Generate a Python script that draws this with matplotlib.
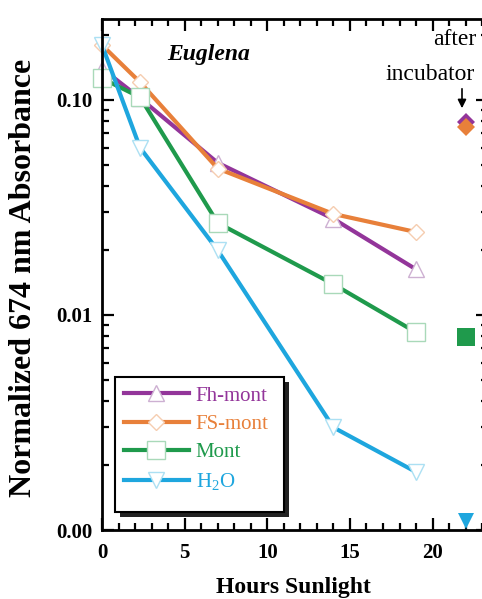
"""Euglena chlorophyll absorbance under sunlight exposure."""

import matplotlib

matplotlib.use("Agg")
import matplotlib.pyplot as plt
from matplotlib.patches import Rectangle
from matplotlib.ticker import FixedLocator, LogLocator, MultipleLocator, NullFormatter

# Data
hours = [0, 2.3, 7, 14, 19]
fh_mont = [0.14, 0.102, 0.051, 0.028, 0.0163]
fs_mont = [0.18, 0.121, 0.048, 0.0295, 0.0243]
mont = [0.126, 0.103, 0.0268, 0.0139, 0.0083]
h2o = [0.18, 0.060, 0.020, 0.0030, 0.00186]

incubator_hours = 22
incubator_fh_mont = 0.079
incubator_fs_mont = 0.075
incubator_mont = 0.0079
incubator_h2o = 0.0011

series_labels = ["Fh-mont", "FS-mont", "Mont", "H$_2$O"]
y_ticks = [0.001, 0.01, 0.1]
y_tick_labels = ["0.00", "0.01", "0.10"]
x_ticks = [0, 5, 10, 15, 20]

W, H = 482, 599


def px(x, y):
    """Pixel position (from top-left) to figure fraction."""
    return x / W, 1 - y / H


def main():
    plt.rcParams["font.family"] = ["Liberation Serif", "DejaVu Serif"]
    plt.rcParams["mathtext.fontset"] = "custom"
    plt.rcParams["mathtext.rm"] = "Liberation Serif"
    plt.rcParams["mathtext.it"] = "Liberation Serif:italic"

    fig = plt.figure(figsize=(W / 100, H / 100), dpi=100)
    left, top = px(102, 19)
    right, bottom = px(488, 530)
    ax = fig.add_axes([left, bottom, right - left, top - bottom])

    styles = [
        ("#93359a", "#cdb0d2", "^", 12),
        ("#e8803a", "#f5cdb0", "D", 8.5),
        ("#1f9a4c", "#a9d9b9", "s", 13),
        ("#1ea6de", "#ace0f3", "v", 12),
    ]
    handles = []
    for values, (color, edge, marker, ms) in zip([fh_mont, fs_mont, mont, h2o], styles):
        (h,) = ax.plot(
            hours,
            values,
            color=color,
            linewidth=3,
            marker=marker,
            markersize=ms,
            markerfacecolor="white",
            markeredgecolor=edge,
            markeredgewidth=1,
            clip_on=False,
        )
        handles.append(h)

    # samples measured after the incubator
    ax.plot(incubator_hours, incubator_fh_mont, "D", color=styles[0][0], markersize=9, mew=0)
    ax.plot(incubator_hours, incubator_fs_mont, "D", color=styles[1][0], markersize=9, mew=0)
    ax.plot(incubator_hours, incubator_mont, "s", color=styles[2][0], markersize=13, mew=0)
    ax.plot(incubator_hours, incubator_h2o, "v", color=styles[3][0], markersize=12, mew=0,
            clip_on=False, zorder=5)

    ax.set_yscale("log")
    ax.set_xlim(0, 23.35)
    ax.set_ylim(0.001, 0.238)

    ax.yaxis.set_major_locator(FixedLocator(y_ticks))
    ax.set_yticklabels(y_tick_labels)
    ax.yaxis.set_minor_locator(LogLocator(base=10, subs=range(2, 10)))
    ax.yaxis.set_minor_formatter(NullFormatter())
    ax.xaxis.set_major_locator(FixedLocator(x_ticks))
    ax.xaxis.set_minor_locator(MultipleLocator(1))

    ax.tick_params(which="both", direction="in", top=True, right=True, width=1.6)
    ax.tick_params(which="major", length=8.5)
    ax.tick_params(which="minor", length=5)
    ax.tick_params(axis="y", which="major", pad=7)
    ax.tick_params(axis="x", which="major", pad=9)
    for lab in ax.get_xticklabels() + ax.get_yticklabels():
        lab.set_fontsize(15)
        lab.set_fontweight("bold")
    for spine in ax.spines.values():
        spine.set_linewidth(2)

    fig.text(*px(24, 278), "Normalized 674 nm Absorbance", rotation=90,
             ha="center", va="center", fontsize=23, fontweight="bold")
    fig.text(*px(293, 588), "Hours Sunlight", ha="center", va="center",
             fontsize=17, fontweight="bold")
    fig.text(*px(167, 60), "Euglena", ha="left", va="baseline",
             fontsize=17, fontweight="bold", style="italic")
    fig.text(*px(433, 45), "after", ha="left", va="baseline", fontsize=17)
    fig.text(*px(385, 80), "incubator", ha="left", va="baseline", fontsize=17)

    # arrow pointing at the incubator samples
    ax.annotate(
        "",
        xy=px(462, 111),
        xycoords="figure fraction",
        xytext=px(462, 86),
        textcoords="figure fraction",
        arrowprops=dict(arrowstyle="-|>,head_length=0.5,head_width=0.25", color="black", lw=1.2),
    )

    # legend box with a drop shadow, drawn by hand
    x0, y0 = px(115, 512)
    x1, y1 = px(284, 377)
    shadow = Rectangle((x0 + 5 / W, y0 - 5 / H), x1 - x0, y1 - y0, transform=fig.transFigure,
                       facecolor="#222222", edgecolor="none", zorder=6)
    frame = Rectangle((x0, y0), x1 - x0, y1 - y0, transform=fig.transFigure,
                      facecolor="white", edgecolor="black", linewidth=1.5, zorder=7)
    fig.patches.extend([shadow, frame])

    leg = fig.legend(
        handles,
        series_labels,
        loc="upper left",
        bbox_to_anchor=px(124, 386),
        frameon=False,
        borderpad=0,
        borderaxespad=0,
        handlelength=3.1,
        handletextpad=0.35,
        labelspacing=0.42,
        prop={"size": 15},
    )
    leg.set_zorder(8)
    for text, (color, _, _, _) in zip(leg.get_texts(), styles):
        text.set_color(color)

    fig.savefig("out.png", dpi=100)


if __name__ == "__main__":
    main()
